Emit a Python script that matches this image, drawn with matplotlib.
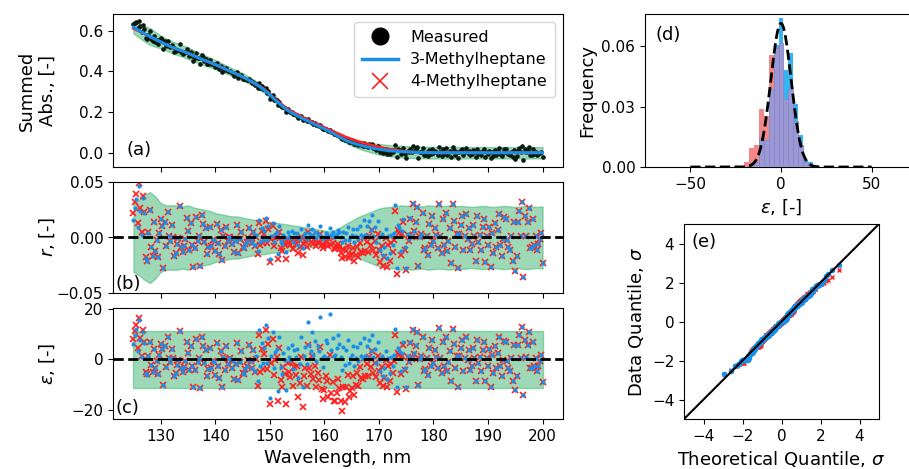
import numpy as np
import matplotlib
matplotlib.use("Agg")
import matplotlib.pyplot as plt
from matplotlib.lines import Line2D
from statistics import NormalDist

# ---------------- data ----------------
knots = list(range(125, 201))  # nm, 1 nm spacing for fitted curves / envelope

fit_3mh = [0.616, 0.600, 0.585, 0.571, 0.557, 0.544, 0.531, 0.519, 0.509, 0.499,
           0.489, 0.477, 0.465, 0.454, 0.444, 0.433, 0.421, 0.409, 0.397, 0.385,
           0.373, 0.359, 0.344, 0.327, 0.308, 0.285, 0.259, 0.235, 0.213, 0.196,
           0.182, 0.168, 0.155, 0.142, 0.130, 0.117, 0.103, 0.089, 0.074, 0.060,
           0.050, 0.041, 0.034, 0.028, 0.022, 0.017, 0.013, 0.010, 0.008, 0.006,
           0.004, 0.003, 0.002, 0.001, 0.001,
           0.0, 0.0, 0.0, 0.0, 0.0, 0.0, 0.0, 0.0, 0.0, 0.0, 0.0,
           0.0, 0.0, 0.0, 0.0, 0.0, 0.0, 0.0, 0.0, 0.0, 0.0]

fit_4mh = [0.610, 0.597, 0.584, 0.571, 0.557, 0.544, 0.531, 0.519, 0.509, 0.499,
           0.489, 0.477, 0.465, 0.454, 0.444, 0.433, 0.421, 0.409, 0.397, 0.385,
           0.373, 0.359, 0.344, 0.330, 0.311, 0.288, 0.2625, 0.2405, 0.219, 0.2025,
           0.1886, 0.1748, 0.162, 0.149, 0.1372, 0.1245, 0.111, 0.100, 0.0885, 0.076,
           0.067, 0.0575, 0.049, 0.042, 0.035, 0.0285, 0.022, 0.0175, 0.0135, 0.0095,
           0.006, 0.004, 0.002, 0.001, 0.001,
           0.0, 0.0, 0.0, 0.0, 0.0, 0.0, 0.0, 0.0, 0.0, 0.0, 0.0,
           0.0, 0.0, 0.0, 0.0, 0.0, 0.0, 0.0, 0.0, 0.0, 0.0]

# half-width of the residual envelope (2 sigma), absorbance units
band_r = [0.031, 0.034, 0.038, 0.041, 0.037, 0.031, 0.029, 0.029, 0.029, 0.028,
          0.029, 0.027, 0.026, 0.025, 0.024, 0.022, 0.021, 0.020, 0.019, 0.019,
          0.018, 0.017, 0.016, 0.0155, 0.015, 0.014, 0.0135, 0.0125, 0.012, 0.011,
          0.0105, 0.0095, 0.0088, 0.0082, 0.0072, 0.0063, 0.0055, 0.0068, 0.0095, 0.0125,
          0.015, 0.018, 0.020, 0.022, 0.024, 0.026, 0.027, 0.0275, 0.028, 0.029,
          0.0285, 0.029,
          0.0285, 0.028, 0.029, 0.0285, 0.028, 0.0285, 0.029, 0.028, 0.0285, 0.028,
          0.0275, 0.028, 0.0285, 0.028, 0.0275, 0.028, 0.0285, 0.028, 0.0275, 0.028,
          0.0285, 0.028, 0.0275, 0.028]

eps_sigma = 5.6  # normalised-residual standard deviation (band = +-2 sigma)

# normalised residuals of the measurement w.r.t. the 3-methylheptane fit, 0.25 nm steps
eps_3mh = [
    5.8, 9.4, 12.1, 3.2,    15.3, 7.6, 0.8, 10.9,   6.4, -5.3, -6.1, 1.2,   6.7, -2.4, -4.9, 4.1,
    -3.6, -0.7, -5.8, 1.5,  6.1, 3.9, -10.2, 5.2,   -3.1, 8.7, 0.5, -1.3,   4.2, 0.3, -6.6, -5.4,
    -2.2, -0.2, 11.0, -3.4, -5.2, -3.1, -0.6, 6.9,  2.4, -4.3, 5.1, -2.8,   -10.9, -4.1, 7.8, -1.3,
    0.4, -11.2, 8.9, 5.3,   -1.7, 3.7, -6.8, -3.9,  4.6, -3.5, -0.9, -1.1,  -6.3, 6.2, -2.7, -7.6,
    3.4, -10.8, 0.7, -4.4,  5.2, -1.9, 0.2, 0.4,    -3.6, -0.8, -7.7, -1.8, 6.4, -8.4, -1.0, 3.3,
    -5.4, -5.9, -3.7, -2.5, -0.3, 5.5, -0.9, -3.3,  3.6, -4.6, 1.3, -8.8,   11.6, -2.7, 6.3, -1.5,
    4.4, 13.6, -1.4, 8.2,   -15.2, 1.2, 10.8, -3.5, 2.7, 4.1, -12.6, 8.8,   -3.2, -5.7, 2.3, -0.5,
    -12.1, 4.5, 0.9, -0.5,  5.6, -3.8, 3.8, 0.8,    4.2, -7.6, -1.9, 8.6,   -11.0, 1.4, 4.8, -1.8,
    14.7, 5.7, 3.4, 10.6,   1.6, 7.3, -0.7, 5.2,    3.1, 16.6, 0.6, -2.9,   1.3, 7.4, 6.3, 0.6,
    17.9, 3.5, 8.4, 1.2,    1.7, 4.4, 9.6, 6.1,     0.7, -4.3, 4.7, -2.1,   3.5, 7.7, -1.6, 0.6,
    1.5, 5.3, -2.8, 0.6,    4.9, -0.9, 6.3, 1.4,    0.5, 8.5, 1.1, 5.4,     0.6, 7.6, 3.3, 9.7,
    0.8, 4.2, -1.7, 6.6,    0.1, -4.8, 1.2, -6.7,   -3.6, 3.2, -7.7, 0.4,   -5.6, 0.9, -2.7, 1.5,
    11.8, -10.9, 4.3, 3.2,  -4.6, 2.3, 6.6, -3.5,   -10.8, 1.4, -0.6, 6.8,  0.5, 11.9, 2.4, 5.5,
    10.7, -10.2, 0.2, 1.4,  8.8, -4.5, -3.8, 0.6,   -6.2, 4.6, -2.5, 7.7,   -1.4, 3.5, 0.8, -3.6,
    12.2, 0.5, -5.6, 6.6,   -2.6, 8.6, -4.7, -1.3,  3.4, -8.8, 11.8, 5.9,   -3.5, 1.4, -10.8, 1.4,
    4.4, 7.6, -4.6, 0.5,    8.6, -0.4, 3.6, -4.4,   -2.5, 4.5, 0.6, -8.6,   7.6, -1.6, 1.0, -4.6,
    3.6, 6.7, -8.7, 0.5,    -2.6, 3.9, -10.8, 1.6,  -5.6, 5.4, -3.5, 2.6,   8.6, -2.6, -6.6, -0.4,
    7.1, 6.6, -0.8, -3.4,   -4.6, 0.6, -8.6, 5.5,   -12.3, -6.6, 5.5, 9.6,  0.5, 12.8, -14.2, 7.6,
    0.7, 5.5, 10.7, -3.6,   -3.5, 6.6, -2.6, 0.5,   -4.5, -2.5, -0.6, 1.8,  -9.1]

panel_labels = ["(a)", "(b)", "(c)", "(d)", "(e)"]
series_names = ["Measured", "3-Methylheptane", "4-Methylheptane"]

# ---------------- derived quantities ----------------
knots = np.array(knots, float)
wl = np.linspace(125, 200, len(eps_3mh))
fit3 = np.array(fit_3mh)
fit4 = np.array(fit_4mh)
band = np.array(band_r)
e3 = np.array(eps_3mh, float)

sig_pt = np.interp(wl, knots, band) / 2.0
fit3_pt = np.interp(wl, knots, fit3)
fit4_pt = np.interp(wl, knots, fit4)
r3 = e3 * sig_pt / eps_sigma
measured = fit3_pt + r3
r4 = measured - fit4_pt
e4 = r4 / sig_pt * eps_sigma

# ---------------- styling ----------------
BLUE = "#1a8fe8"
RED = "#ff1f1f"
GREEN = "#3cb371"
plt.rcParams["font.family"] = ["DejaVu Sans"]
plt.rcParams["font.size"] = 11
TICK = 11
LAB = 13
EPS = r"$\varepsilon$, [-]"

fig = plt.figure(figsize=(9.09, 4.69), dpi=100)
W, H = 909.0, 469.0


def ax_px(l, t, r, b):
    return fig.add_axes([l / W, 1 - b / H, (r - l) / W, (b - t) / H])


axA = ax_px(113, 14, 563, 167)
axB = ax_px(113, 182, 563, 293)
axC = ax_px(113, 308, 563, 419)
axD = ax_px(645, 14, 917, 167)
axE = ax_px(684, 224, 879, 419)

# (a)
axA.fill_between(knots, fit3 - band, fit3 + band, color=GREEN, alpha=0.5, lw=1, zorder=1)
axA.plot(wl, measured, "o", color="#0a1a0d", ms=2.3, zorder=2)
axA.plot(knots, fit4, color=RED, lw=2, zorder=3)
axA.plot(knots, fit3, color=BLUE, lw=2.2, zorder=4)
axA.set_ylabel("Summed\nAbs., [-]", fontsize=LAB)
axA.set_yticks([0.0, 0.2, 0.4, 0.6])
handles = [Line2D([], [], ls="none", marker="o", color="black", ms=12),
           Line2D([], [], color=BLUE, lw=2.5),
           Line2D([], [], ls="none", marker="x", color=RED, ms=12, mew=1.2)]
axA.legend(handles, series_names, loc="upper right", fontsize=11.5,
           handlelength=2.2, borderpad=0.5, labelspacing=0.45)

# (b)
axB.fill_between(knots, -band, band, color=GREEN, alpha=0.5, lw=1, zorder=1)
axB.plot(wl, r4, "x", color=RED, ms=4.5, mew=1.2, zorder=2)
axB.plot(wl, r3, "o", color=BLUE, ms=3, mec="none", zorder=3)
axB.axhline(0, color="black", ls="--", lw=2, zorder=5)
axB.set_ylim(-0.05, 0.05)
axB.set_yticks([-0.05, 0.0, 0.05])
axB.set_ylabel(r"$r$, [-]", fontsize=LAB)

# (c)
axC.fill_between(knots, -2 * eps_sigma, 2 * eps_sigma, color=GREEN, alpha=0.5, lw=1, zorder=1)
axC.plot(wl, e4, "x", color=RED, ms=4.5, mew=1.2, zorder=2)
axC.plot(wl, e3, "o", color=BLUE, ms=3, mec="none", zorder=3)
axC.axhline(0, color="black", ls="--", lw=2, zorder=5)
axC.set_ylim(-23.6, 20.2)
axC.set_yticks([-20, 0, 20])
axC.set_ylabel(EPS, fontsize=LAB)
axC.set_xlabel("Wavelength, nm", fontsize=LAB)

for ax in (axA, axB, axC):
    ax.set_xlim(121.25, 203.75)
    ax.set_xticks(range(130, 201, 10))
    ax.tick_params(labelsize=TICK)
    ax.yaxis.set_label_coords(-0.125, 0.5)
axA.tick_params(labelbottom=False)
axB.tick_params(labelbottom=False)

# (d) histograms on common bins; overlap drawn in purple
edges = np.arange(-23.375, 21.0, 2.75)
h4, _ = np.histogram(e4, bins=edges, density=True)
h3, _ = np.histogram(e3, bins=edges, density=True)
axD.stairs(h4, edges, fill=True, color="#f48888", zorder=1)
axD.stairs(h3, edges, fill=True, color="#36b4f0", zorder=2)
axD.bar(edges[:-1], np.minimum(h3, h4), width=np.diff(edges), align="edge",
        color="#9c98d4", edgecolor="#8a86cc", linewidth=0.6, zorder=3)
xx = np.linspace(-50, 50, 400)
axD.plot(xx, np.exp(-0.5 * (xx / eps_sigma) ** 2) / (eps_sigma * np.sqrt(2 * np.pi)),
         "k--", lw=2, zorder=4)
axD.set_xlim(-75, 75)
axD.set_ylim(0, 0.0759)
axD.set_xticks([-50, 0, 50])
axD.set_yticks([0.0, 0.03, 0.06])
axD.set_ylabel("Frequency", fontsize=LAB)
axD.set_xlabel(EPS, fontsize=LAB)
axD.tick_params(labelsize=TICK)

# (e)
nd = NormalDist()


def qq(e):
    s = np.sort(e)
    n = len(s)
    theo = np.array([nd.inv_cdf((i + 0.5) / n) for i in range(n)])
    return theo, (s - s.mean()) / s.std()


t4, d4 = qq(e4)
t3, d3 = qq(e3)
axE.plot(t4, d4, "x", color=RED, ms=3, mew=1, zorder=2)
axE.plot(t3, d3, "o", color=BLUE, ms=4, mec="none", zorder=3)
axE.plot([-5, 5], [-5, 5], color="black", lw=1.5, zorder=4)
axE.set_xlim(-5, 5)
axE.set_ylim(-5, 5)
axE.set_xticks([-4, -2, 0, 2, 4])
axE.set_yticks([-4, -2, 0, 2, 4])
axE.set_xlabel(r"Theoretical Quantile, $\sigma$", fontsize=LAB)
axE.set_ylabel(r"Data Quantile, $\sigma$", fontsize=LAB)
axE.tick_params(labelsize=TICK)

# panel letters
axA.text(0.03, 0.08, panel_labels[0], transform=axA.transAxes, fontsize=13)
axB.text(0.005, 0.04, panel_labels[1], transform=axB.transAxes, fontsize=13)
axC.text(0.005, 0.05, panel_labels[2], transform=axC.transAxes, fontsize=13)
axD.text(0.04, 0.83, panel_labels[3], transform=axD.transAxes, fontsize=13)
axE.text(0.04, 0.88, panel_labels[4], transform=axE.transAxes, fontsize=13)

fig.savefig("out.png", dpi=100)
